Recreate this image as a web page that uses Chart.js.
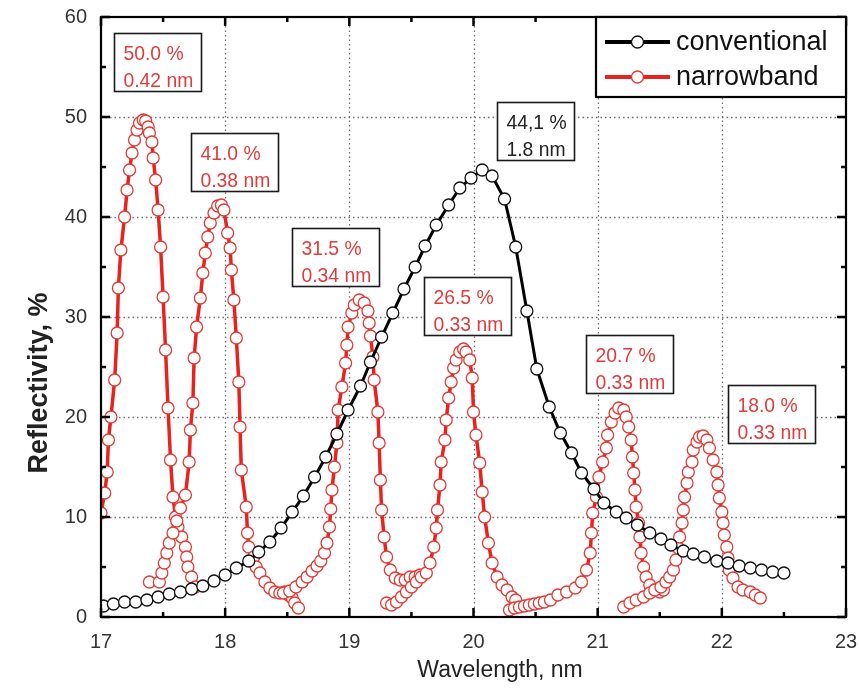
<!DOCTYPE html>
<html>
<head>
<meta charset="utf-8">
<title>Reflectivity vs wavelength</title>
<script src="https://cdn.jsdelivr.net/npm/chart.js@4.4.1/dist/chart.umd.min.js"></script>
<style>
  html, body { margin: 0; padding: 0; background: #fff; }
  #wrap { width: 859px; height: 692px; position: relative; }
</style>
</head>
<body>
<div id="wrap"><canvas id="chart"></canvas></div>
<script>
// conventional mirror (black curve)
const convX = [17.02,17.10,17.19,17.28,17.37,17.46,17.55,17.64,17.73,17.82,17.91,18.00,18.09,18.19,18.27,18.36,18.45,18.54,18.63,18.72,18.81,18.90,18.99,19.09,19.17,19.26,19.35,19.44,19.53,19.61,19.70,19.80,19.89,19.98,20.07,20.15,20.25,20.34,20.43,20.51,20.61,20.70,20.79,20.87,20.97,21.05,21.15,21.23,21.32,21.42,21.51,21.59,21.69,21.77,21.86,21.96,22.05,22.14,22.23,22.32,22.41,22.50];
const convY = [1.1,1.3,1.5,1.5,1.7,2.0,2.3,2.5,2.8,3.1,3.6,4.2,4.9,5.6,6.5,7.5,8.9,10.5,12.1,14.0,16.0,18.3,20.7,23.1,25.5,28.0,30.4,32.8,35.0,37.1,39.2,41.2,42.9,43.9,44.7,44.1,41.8,37.0,30.6,24.8,21.0,18.4,16.4,14.4,12.8,11.4,10.5,9.9,9.2,8.4,7.8,7.2,6.6,6.3,6.0,5.6,5.4,5.1,4.9,4.7,4.5,4.4];

// narrowband mirrors, one curve per peak (red)
const peak1X = [17.00,17.03,17.05,17.06,17.08,17.11,17.13,17.14,17.16,17.19,17.21,17.23,17.25,17.27,17.29,17.31,17.34,17.36,17.38,17.39,17.41,17.42,17.44,17.46,17.48,17.50,17.52,17.54,17.56,17.58,17.60,17.62,17.65,17.68,17.69,17.70,17.73,17.76];
const peak1Y = [10.4,12.4,14.5,17.7,20.0,23.7,28.4,32.9,36.7,40.0,42.7,44.7,46.4,47.7,48.7,49.4,49.7,49.6,49.0,48.4,47.5,45.9,43.7,40.7,37.0,32.0,26.7,20.9,15.7,12.0,10.0,9.0,8.0,7.0,6.0,5.0,4.0,3.0];
const peak2X = [17.39,17.47,17.49,17.51,17.53,17.55,17.58,17.61,17.64,17.68,17.71,17.72,17.74,17.75,17.77,17.80,17.82,17.84,17.86,17.88,17.91,17.94,17.97,17.99,18.02,18.04,18.05,18.07,18.09,18.11,18.12,18.13,18.17,18.18,18.19,18.23,18.25,18.28,18.32,18.36,18.40,18.44,18.48,18.51,18.54,18.56,18.59];
const peak2Y = [3.5,3.5,4.4,5.4,6.4,7.4,8.4,9.6,10.9,12.2,15.5,18.7,21.4,25.9,29.0,31.9,34.4,36.4,38.0,39.4,40.4,41.1,41.2,40.7,38.4,36.9,34.7,31.7,27.9,23.5,19.0,14.7,11.0,8.4,7.0,6.0,5.0,4.4,3.5,2.9,2.5,2.4,2.5,2.2,1.9,1.4,0.9];
const peak3X = [18.47,18.52,18.57,18.62,18.66,18.70,18.74,18.77,18.80,18.82,18.84,18.85,18.86,18.88,18.90,18.91,18.94,18.97,18.98,18.99,19.02,19.04,19.08,19.12,19.15,19.16,19.17,19.19,19.20,19.23,19.24,19.25,19.26,19.28,19.30,19.33,19.37,19.41,19.45,19.49,19.53,19.57];
const peak3Y = [2.4,2.6,3.0,3.5,4.0,4.6,5.1,5.6,6.4,7.4,9.0,10.8,12.7,15.0,17.4,20.7,23.0,25.4,27.2,29.0,30.4,31.2,31.7,31.4,30.6,29.4,28.1,26.0,23.7,20.5,17.4,13.7,10.7,8.0,6.0,4.7,3.9,3.7,3.7,4.0,4.0,4.2];
const peak4X = [19.30,19.34,19.38,19.42,19.46,19.50,19.54,19.58,19.62,19.65,19.68,19.70,19.71,19.73,19.74,19.77,19.78,19.80,19.82,19.84,19.86,19.89,19.92,19.94,19.97,19.99,20.00,20.02,20.05,20.07,20.09,20.12,20.15,20.19,20.23,20.27,20.31,20.34];
const peak4Y = [1.4,1.2,1.5,2.0,2.5,3.0,3.5,4.0,4.4,5.4,7.0,8.9,10.7,13.2,15.5,17.7,19.7,21.9,23.5,24.9,25.7,26.5,26.8,26.5,25.7,23.9,20.5,18.2,15.4,12.5,10.0,7.4,5.4,4.0,3.2,2.7,2.0,1.7];
const peak5X = [20.29,20.33,20.37,20.41,20.45,20.49,20.53,20.57,20.62,20.68,20.75,20.82,20.87,20.91,20.94,20.95,20.96,20.99,21.01,21.04,21.07,21.08,21.11,21.14,21.17,21.21,21.23,21.25,21.27,21.28,21.29,21.30,21.31,21.33,21.34,21.35,21.37,21.39,21.42,21.46,21.50,21.53];
const peak5Y = [0.7,0.9,1.0,1.1,1.2,1.3,1.4,1.5,1.7,2.2,2.5,2.9,3.5,4.7,6.4,8.4,10.4,12.0,14.0,15.5,16.9,18.2,19.5,20.4,20.9,20.7,20.0,19.0,17.7,16.0,14.4,12.7,11.0,9.4,8.0,6.4,5.0,4.0,3.2,2.7,2.5,2.7];
const peak6X = [21.21,21.26,21.31,21.37,21.42,21.46,21.51,21.55,21.58,21.61,21.63,21.65,21.66,21.68,21.69,21.70,21.72,21.73,21.76,21.77,21.80,21.82,21.85,21.88,21.90,21.93,21.96,21.97,21.98,22.00,22.01,22.02,22.04,22.05,22.06,22.09,22.13,22.17,22.23,22.27,22.31];
const peak6Y = [1.0,1.4,1.7,2.0,2.4,2.7,3.0,3.5,4.0,4.7,5.7,6.9,8.0,9.4,10.7,12.0,13.4,14.5,15.5,16.7,17.5,18.0,18.1,17.7,16.9,15.7,14.5,13.2,11.9,10.5,9.4,8.2,7.0,5.9,4.7,3.9,3.0,2.7,2.5,2.2,1.9];

const seriesNames = ['conventional', 'narrowband'];
const xTicks = [17, 18, 19, 20, 21, 22, 23];
const yTicks = [0, 10, 20, 30, 40, 50, 60];

// peak reflectivity / bandwidth labels
const peakValues = ['50.0 %', '41.0 %', '44,1 %', '31.5 %', '26.5 %', '20.7 %', '18.0 %'];
const peakWidths = ['0.42 nm', '0.38 nm', '1.8 nm', '0.34 nm', '0.33 nm', '0.33 nm', '0.33 nm'];
const peakSeries = [1, 1, 0, 1, 1, 1, 1];

// label box top-left corners, in axis units
const boxAt = [[17.105, 58.4], [17.725, 48.4], [20.19, 51.5], [18.54, 38.9], [19.60, 34.0], [20.91, 28.2], [22.05, 23.2]];

const RED = '#e8231f';
const RED_TEXT = '#e03c3c';
const FONT = '"Liberation Sans", Arial, sans-serif';

const peaksX = [peak1X, peak2X, peak3X, peak4X, peak5X, peak6X];
const peaksY = [peak1Y, peak2Y, peak3Y, peak4Y, peak5Y, peak6Y];
const nbData = [];
peaksX.forEach((xs, i) => {
  if (i) nbData.push({ x: xs[0], y: null });
  xs.forEach((x, j) => nbData.push({ x, y: peaksY[i][j] }));
});
const convData = convX.map((x, i) => ({ x, y: convY[i] }));

const axisDecor = {
  id: 'axisDecor',
  beforeDatasetsDraw(chart) {
    const { ctx, chartArea: a, scales: { x, y } } = chart;
    ctx.save();
    ctx.strokeStyle = '#707070';
    ctx.lineWidth = 1.3;
    ctx.setLineDash([1.5, 3]);
    ctx.beginPath();
    xTicks.slice(1, -1).forEach(v => {
      const p = Math.round(x.getPixelForValue(v)) + 0.5;
      ctx.moveTo(p, a.top); ctx.lineTo(p, a.bottom);
    });
    yTicks.slice(1, -1).forEach(v => {
      const p = Math.round(y.getPixelForValue(v)) + 0.5;
      ctx.moveTo(a.left, p); ctx.lineTo(a.right, p);
    });
    ctx.stroke();
    ctx.restore();
  },
  afterDatasetsDraw(chart) {
    const { ctx, chartArea: a, scales: { x, y } } = chart;
    ctx.save();
    ctx.strokeStyle = '#000';
    ctx.lineWidth = 2.5;
    ctx.beginPath();
    // inward ticks on all four sides, minor ones half way
    xTicks.forEach((v, i) => {
      const p = x.getPixelForValue(v);
      ctx.moveTo(p, a.bottom); ctx.lineTo(p, a.bottom - 9);
      ctx.moveTo(p, a.top); ctx.lineTo(p, a.top + 9);
      if (i < xTicks.length - 1) {
        const m = x.getPixelForValue((v + xTicks[i + 1]) / 2);
        ctx.moveTo(m, a.bottom); ctx.lineTo(m, a.bottom - 5);
        ctx.moveTo(m, a.top); ctx.lineTo(m, a.top + 5);
      }
    });
    yTicks.forEach((v, i) => {
      const p = y.getPixelForValue(v);
      ctx.moveTo(a.left, p); ctx.lineTo(a.left + 9, p);
      ctx.moveTo(a.right, p); ctx.lineTo(a.right - 9, p);
      if (i < yTicks.length - 1) {
        const m = y.getPixelForValue((v + yTicks[i + 1]) / 2);
        ctx.moveTo(a.left, m); ctx.lineTo(a.left + 5, m);
        ctx.moveTo(a.right, m); ctx.lineTo(a.right - 5, m);
      }
    });
    ctx.stroke();
    ctx.lineWidth = 2.2;
    ctx.strokeRect(a.left, a.top, a.right - a.left, a.bottom - a.top);
    ctx.restore();
  },
  afterDraw(chart) {
    const { ctx, chartArea: a, scales: { x, y } } = chart;
    ctx.save();

    // labels next to each peak (text slightly condensed like the original)
    const sx = 0.92;
    ctx.font = '21px ' + FONT;
    ctx.textBaseline = 'alphabetic';
    peakValues.forEach((t, i) => {
      const left = Math.round(x.getPixelForValue(boxAt[i][0])) + 0.5;
      const top = Math.round(y.getPixelForValue(boxAt[i][1])) + 0.5;
      const tw = Math.max(ctx.measureText(t).width, ctx.measureText(peakWidths[i]).width) * sx;
      const w = Math.round(tw + 17);
      ctx.fillStyle = '#fff';
      ctx.fillRect(left, top, w, 58);
      ctx.strokeStyle = '#1a1a1a';
      ctx.lineWidth = 1.6;
      ctx.strokeRect(left, top, w, 58);
      ctx.fillStyle = peakSeries[i] ? RED_TEXT : '#222';
      ctx.save();
      ctx.translate(left + 9, top);
      ctx.scale(sx, 1);
      ctx.fillText(t, 0, 26);
      ctx.fillText(peakWidths[i], 0, 53);
      ctx.restore();
    });

    // legend in the top right corner
    const lw = 250, lh = 80;
    const lx = a.right - lw, ly = a.top;
    ctx.fillStyle = '#fff';
    ctx.fillRect(lx, ly, lw, lh);
    ctx.strokeStyle = '#000';
    ctx.lineWidth = 2.2;
    ctx.strokeRect(lx, ly, lw, lh);
    ctx.font = '27px ' + FONT;
    ctx.textBaseline = 'middle';
    chart.data.datasets.forEach((ds, i) => {
      const cy = ly + 25 + i * 35;
      ctx.strokeStyle = ds.borderColor;
      ctx.lineWidth = 4;
      ctx.beginPath();
      ctx.moveTo(lx + 9, cy); ctx.lineTo(lx + 74, cy);
      ctx.stroke();
      ctx.beginPath();
      ctx.arc(lx + 41.5, cy, 6, 0, Math.PI * 2);
      ctx.fillStyle = '#fff';
      ctx.fill();
      ctx.lineWidth = 1.3;
      ctx.strokeStyle = ds.pointBorderColor;
      ctx.stroke();
      ctx.fillStyle = '#111';
      ctx.fillText(ds.label, lx + 80, cy + 1);
    });

    // axis titles
    ctx.fillStyle = '#222';
    ctx.textAlign = 'center';
    ctx.textBaseline = 'alphabetic';
    ctx.font = '23px ' + FONT;
    ctx.fillText('Wavelength, nm', 500, 677);
    ctx.translate(47, 383);
    ctx.rotate(-Math.PI / 2);
    ctx.font = 'bold 27px ' + FONT;
    ctx.fillText('Reflectivity, %', 0, 0);
    ctx.restore();
  }
};

new Chart(document.getElementById('chart'), {
  type: 'line',
  data: {
    datasets: [
      {
        label: seriesNames[0],
        data: convData,
        borderColor: '#000',
        borderWidth: 3,
        pointRadius: 6,
        pointBorderWidth: 1.3,
        pointBackgroundColor: '#fff',
        pointBorderColor: '#111',
        tension: 0,
        clip: 0
      },
      {
        label: seriesNames[1],
        data: nbData,
        borderColor: RED,
        borderWidth: 3.5,
        pointRadius: 6,
        pointBorderWidth: 1.3,
        pointBackgroundColor: '#fff',
        pointBorderColor: '#e33a36',
        tension: 0,
        spanGaps: false,
        clip: 0
      }
    ]
  },
  options: {
    responsive: true,
    maintainAspectRatio: false,
    animation: false,
    events: [],
    layout: { padding: { left: 0, right: 13, top: 17, bottom: 0 } },
    plugins: {
      legend: { display: false },
      tooltip: { enabled: false }
    },
    scales: {
      x: {
        type: 'linear',
        min: xTicks[0],
        max: xTicks[xTicks.length - 1],
        grid: { display: false, drawTicks: false },
        border: { display: false },
        ticks: { stepSize: 1, padding: 13, color: '#333', font: { size: 20, family: FONT } },
        afterFit(scale) {
          scale.height = 75;
          scale.paddingLeft = 0;
          scale.paddingRight = 0;
        }
      },
      y: {
        type: 'linear',
        min: yTicks[0],
        max: yTicks[yTicks.length - 1],
        grid: { display: false, drawTicks: false },
        border: { display: false },
        ticks: { stepSize: 10, padding: 14, color: '#333', font: { size: 20, family: FONT } },
        afterFit(scale) {
          scale.width = 101;
          scale.paddingTop = 0;
          scale.paddingBottom = 0;
        }
      }
    }
  },
  plugins: [axisDecor]
});
</script>
</body>
</html>
